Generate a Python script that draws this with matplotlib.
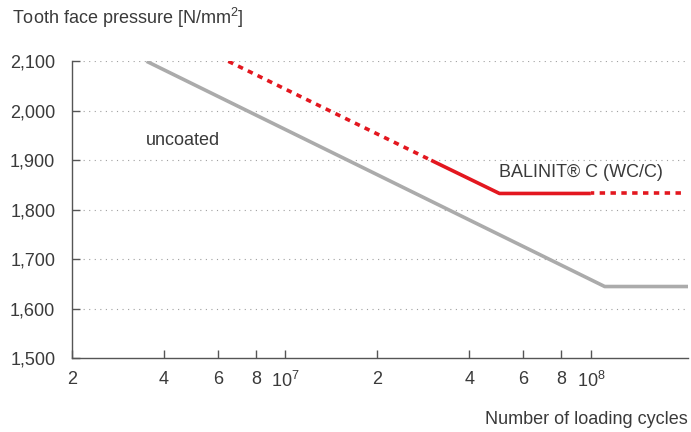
import matplotlib
matplotlib.use("Agg")
import matplotlib.pyplot as plt

plt.rcParams['font.family'] = ['Liberation Sans', 'DejaVu Sans']
plt.rcParams['mathtext.fontset'] = 'custom'
plt.rcParams['mathtext.rm'] = 'Liberation Sans'

# data
uncoated_x = [3.51e6, 1.11e8, 2.08e8]
uncoated_y = [2100, 1645, 1645]

red_dot1_x = [6.5e6, 3.0e7]
red_dot1_y = [2100, 1900]
red_solid_x = [3.0e7, 5.02e7, 1.0e8]
red_solid_y = [1900, 1833, 1833]
red_dot2_x = [1.0e8, 2.0e8]
red_dot2_y = [1833, 1833]

xticks = [2e6, 4e6, 6e6, 8e6, 1e7, 2e7, 4e7, 6e7, 8e7, 1e8]
xlabels = ['2', '4', '6', '8', '$10^7$', '2', '4', '6', '8', '$10^8$']
yticks = [1500, 1600, 1700, 1800, 1900, 2000, 2100]

txt = '#3a3a3a'
gray = '#ababab'
red = '#e3171f'
fs = 13

fig = plt.figure(figsize=(6.91, 4.32), dpi=100)
ax = fig.add_axes([72 / 691, 1 - 358.3 / 432, (688 - 72) / 691, (358.3 - 61.3) / 432])

# dotted gridlines
for v in yticks[1:]:
    ax.axhline(v, color='#a0a0a0', lw=0.8, ls=(0, (1, 4)), zorder=0)

ax.plot(uncoated_x, uncoated_y, color=gray, lw=2.6, solid_capstyle='butt', zorder=2)
ax.plot(red_dot1_x, red_dot1_y, color=red, lw=2.6, ls=(0, (1.5, 1.5)), zorder=3)
ax.plot(red_solid_x, red_solid_y, color=red, lw=2.6, solid_capstyle='butt', zorder=3)
ax.plot(red_dot2_x, red_dot2_y, color=red, lw=2.6, ls=(0.6, (1.5, 1.5)), zorder=3)

ax.set_xscale('log')
ax.set_xlim(2e6, 2.08e8)
ax.set_ylim(1500, 2100)
ax.set_xticks(xticks)
ax.set_xticklabels(xlabels)
ax.minorticks_off()
ax.set_yticks(yticks)
ax.set_yticklabels([f'{v:,}' for v in yticks])

for s in ['top', 'right']:
    ax.spines[s].set_visible(False)
for s in ['left', 'bottom']:
    ax.spines[s].set_color('#555555')
    ax.spines[s].set_linewidth(1.0)

ax.tick_params(axis='both', direction='in', length=6, width=1.0, color='#555555',
               labelsize=fs, labelcolor=txt)
ax.tick_params(axis='y', pad=12)
ax.tick_params(axis='x', pad=9)

fig.text(12 / 691, 1 - 18 / 432, 'Tooth face pressure [N/mm$^2$]', fontsize=fs,
         color=txt, ha='left', va='center')
fig.text(688 / 691, 1 - 420 / 432, 'Number of loading cycles', fontsize=fs,
         color=txt, ha='right', va='center')

ax.text(3.5e6, 1941, 'uncoated', fontsize=fs, color=txt, ha='left', va='center')
ax.text(5.0e7, 1876, 'BALINIT® C (WC/C)', fontsize=fs, color=txt, ha='left', va='center')

fig.savefig('out.png', dpi=100)
